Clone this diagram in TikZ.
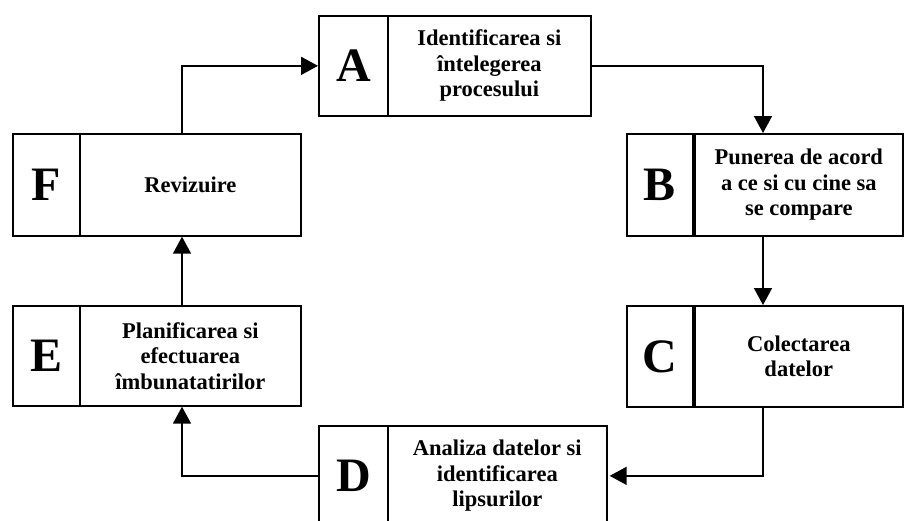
\documentclass[tikz,border=0pt]{standalone}
\usepackage{fontspec}
\setmainfont{Liberation Serif}
\usetikzlibrary{arrows.meta}
\begin{document}
\begin{tikzpicture}[x=1pt,y=-1pt,
  box/.style={draw,line width=1.7pt,rectangle,inner sep=0pt,anchor=north west},
  letterbox/.style={box,font=\bfseries\fontsize{48}{48}\selectfont},
  textbox/.style={box,align=center,font=\bfseries\fontsize{22.5}{25.5}\selectfont},
  arr/.style={line width=1.7pt,-{Triangle[length=17pt,width=18pt]}}]
\useasboundingbox (0,0) rectangle (904,520);
% A
\node[letterbox,minimum width=69pt,minimum height=100pt] (lA) at (318,15) {A};
\node[textbox,minimum width=203pt,minimum height=100pt] (tA) at (387,15) {Identificarea si\\întelegerea\\procesului};
% B
\node[letterbox,minimum width=66pt,minimum height=102pt] (lB) at (626,133) {B};
\node[textbox,minimum width=208pt,minimum height=102pt] (tB) at (694,133) {Punerea de acord\\a ce si cu cine sa\\se compare};
% C
\node[letterbox,minimum width=66pt,minimum height=101pt] (lC) at (626,305) {C};
\node[textbox,minimum width=208pt,minimum height=101pt] (tC) at (694,305) {Colectarea\\datelor};
% D
\node[letterbox,minimum width=69pt,minimum height=100pt] (lD) at (318,425) {D};
\node[textbox,minimum width=219pt,minimum height=100pt] (tD) at (387,425) {Analiza datelor si\\identificarea\\lipsurilor};
% E
\node[letterbox,minimum width=67pt,minimum height=100pt] (lE) at (12,305) {E};
\node[textbox,minimum width=221pt,minimum height=100pt] (tE) at (79,305) {Planificarea si\\efectuarea\\îmbunatatirilor};
% F
\node[letterbox,minimum width=67pt,minimum height=102pt] (lF) at (12,133) {F};
\node[textbox,minimum width=221pt,minimum height=102pt] (tF) at (79,133) {Revizuire};
% columns for connectors
\coordinate (cL) at (182,0);
\coordinate (cR) at (763,0);
% connectors
\draw[arr] (tF.north -| cL) |- (lA.west);
\draw[arr] (tA.east) -| (tB.north -| cR);
\draw[arr] (tB.south -| cR) -- (tC.north -| cR);
\draw[arr] (tC.south -| cR) |- ([xshift=2pt]tD.east);
\draw[arr] (lD.west) -| (tE.south -| cL);
\draw[arr] (tE.north -| cL) -- (tF.south -| cL);
\end{tikzpicture}
\end{document}
